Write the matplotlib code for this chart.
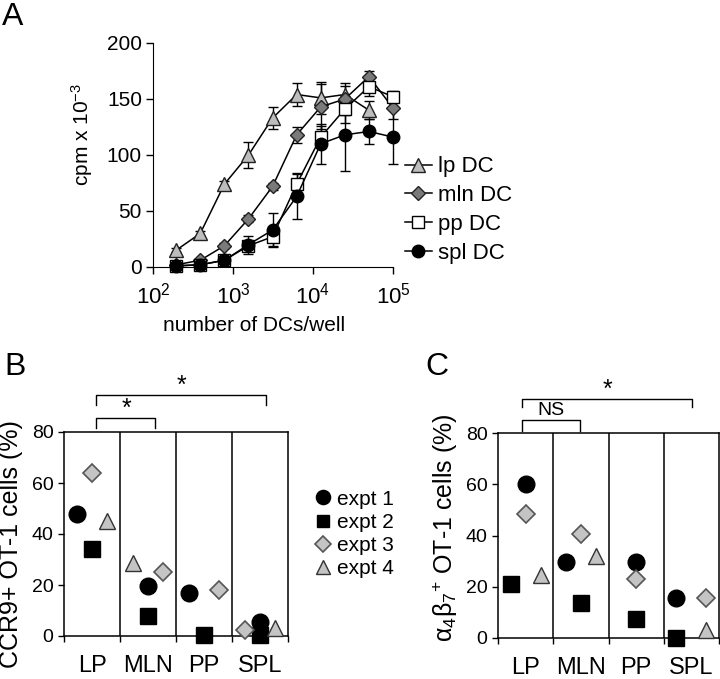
import numpy as np
import matplotlib
matplotlib.use('Agg')
import matplotlib.pyplot as plt
from matplotlib.lines import Line2D

plt.rcParams['font.family'] = ['Liberation Sans', 'DejaVu Sans']
plt.rcParams['mathtext.fontset'] = 'custom'
plt.rcParams['mathtext.rm'] = 'Liberation Sans'
plt.rcParams['mathtext.it'] = 'Liberation Sans:italic'

# ---- panel A data ----
dcs = [195, 390, 781, 1562, 3125, 6250, 12500, 25000, 50000, 100000]
lp_y = [15, 30, 74, 100, 133, 154, 151, 154, 140]
lp_err = [2, 2, 3, 12, 10, 10, 14, 8, 8]
mln_y = [2, 6, 19, 43, 72, 118, 143, 150, 170, 142]
mln_err = [1, 1, 2, 3, 3, 7, 20, 14, 5, 10]
pp_y = [1, 2, 6, 19, 27, 74, 116, 141, 161, 152]
pp_err = [1, 1, 2, 4, 8, 10, 10, 12, 8, 5]
spl_y = [1, 2, 6, 20, 33, 63, 110, 118, 121, 116]
spl_err = [1, 1, 2, 8, 15, 20, 18, 32, 11, 24]

# ---- panels B and C data ----
groups = ['LP', 'MLN', 'PP', 'SPL']
expts = ['expt 1', 'expt 2', 'expt 3', 'expt 4']
ccr9 = {
    'expt 1': [48, 19.5, 17, 5.5],
    'expt 2': [34, 8, 0.5, 0.5],
    'expt 3': [64, 25, 18, 2.2],
    'expt 4': [45, 28.5, np.nan, 3],
}
a4b7 = {
    'expt 1': [60, 29.5, 29.5, 15.8],
    'expt 2': [21, 13.5, 7.5, 0],
    'expt 3': [48.5, 40.5, 23, 15.5],
    'expt 4': [24.5, 32, np.nan, 3],
}

# horizontal placement inside each group (-1 left, 0 centre, 1 right)
ccr9_pos = {
    'expt 1': [-1, 0, -1, 0],
    'expt 2': [0, 0, 0, 0],
    'expt 3': [0, 1, 1, -1],
    'expt 4': [1, -1, 0, 1],
}
a4b7_pos = {
    'expt 1': [0, -1, 0, -1],
    'expt 2': [-1, 0, 0, -1],
    'expt 3': [0, 0, 0, 1],
    'expt 4': [1, 1, 0, 1],
}

expt_style = {
    'expt 1': dict(marker='o', markersize=12, markerfacecolor='black', markeredgecolor='black'),
    'expt 2': dict(marker='s', markersize=11, markerfacecolor='black', markeredgecolor='black'),
    'expt 3': dict(marker='D', markersize=9, markerfacecolor='#c4c4c4', markeredgecolor='#555555', markeredgewidth=1.2),
    'expt 4': dict(marker='^', markersize=12, markerfacecolor='#c4c4c4', markeredgecolor='#333333', markeredgewidth=1.0),
}

W, H = 720, 679
fig = plt.figure(figsize=(7.2, 6.79), dpi=100)


def px_axes(left, top, right, bottom):
    return fig.add_axes([left / W, 1 - bottom / H, (right - left) / W, (bottom - top) / H])


# ---------------- panel A ----------------
axA = px_axes(153, 43, 393, 267)
series = [
    ('lp DC', lp_y, lp_err, dict(marker='^', markersize=10, markerfacecolor='#bdbdbd', markeredgecolor='#222222')),
    ('mln DC', mln_y, mln_err, dict(marker='D', markersize=7.5, markerfacecolor='#7a7a7a', markeredgecolor='#222222')),
    ('pp DC', pp_y, pp_err, dict(marker='s', markersize=8, markerfacecolor='white', markeredgecolor='black')),
    ('spl DC', spl_y, spl_err, dict(marker='o', markersize=9, markerfacecolor='black', markeredgecolor='black')),
]
handles = []
for name, y, err, st in series:
    x = dcs[:len(y)]
    axA.errorbar(x, y, yerr=err, color='black', lw=1.1, elinewidth=1, capsize=3.5,
                 clip_on=False, zorder=3, **st)
    handles.append(Line2D([], [], color='black', lw=1.1, **st))

axA.set_xscale('log')
axA.set_xlim(100, 100000)
axA.set_ylim(0, 200)
axA.set_xticks([1e2, 1e3, 1e4, 1e5])
axA.set_xticklabels([r'10$^{2}$', r'10$^{3}$', r'10$^{4}$', r'10$^{5}$'])
axA.xaxis.set_minor_locator(matplotlib.ticker.NullLocator())
axA.set_yticks([0, 50, 100, 150, 200])
axA.spines['top'].set_visible(False)
axA.spines['right'].set_visible(False)
axA.tick_params(direction='out', length=5, width=1, labelsize=15, pad=3)
axA.tick_params(axis='x', pad=6, labelsize=16)
axA.set_ylabel(r'cpm x 10$^{-3}$', fontsize=15)
axA.yaxis.set_label_coords(-0.24, 0.59)
axA.set_xlabel('number of DCs/well', fontsize=15)
axA.xaxis.set_label_coords(0.42, -0.22)

fig.legend(handles=[h for h in handles], labels=[s[0] for s in series],
           loc='center left', bbox_to_anchor=(405 / W, 1 - 210 / H), frameon=False,
           fontsize=16, handlelength=1.2, handletextpad=0.3, labelspacing=0.35,
           borderpad=0, borderaxespad=0)


# ---------------- panels B and C ----------------
def scatter_panel(ax, values, pos):
    step = 0.27
    for e in expts:
        for i, v in enumerate(values[e]):
            if np.isnan(v):
                continue
            ax.plot(i + 0.5 + pos[e][i] * step, v, linestyle='none', clip_on=False,
                    zorder=3, **expt_style[e])
    ax.set_xlim(0, 4)
    ax.set_ylim(0, 80)
    ax.set_yticks([0, 20, 40, 60, 80])
    for d in [1, 2, 3]:
        ax.axvline(d, color='black', lw=1.1)
    ax.set_xticks([0, 1, 2, 3, 4])
    ax.set_xticklabels([])
    ax.set_xticks([0.5, 1.5, 2.5, 3.5], minor=True)
    ax.set_xticklabels(groups, minor=True, fontsize=17)
    ax.tick_params(axis='x', which='minor', length=0, pad=14)
    ax.tick_params(axis='both', which='major', direction='out', length=4, width=1, labelsize=14)
    for s in ax.spines.values():
        s.set_linewidth(1.1)


def bracket(ax, x0, x1, y, ytick, text, tx, ty, size):
    ax.plot([x0, x0, x1, x1], [ytick, y, y, ytick], color='black', lw=1, clip_on=False)
    ax.text(tx, ty, text, ha='center', va='center', fontsize=size)


axB = px_axes(64, 432, 288, 636)
scatter_panel(axB, ccr9, ccr9_pos)
axB.set_ylabel('CCR9+ OT-1 cells (%)', fontsize=18)
axB.yaxis.set_label_coords(-0.185, 0.45)
bracket(axB, 0.57, 3.6, 94.5, 90.6, '*', 2.1, 98.0, 18)
bracket(axB, 0.57, 1.62, 85.4, 81.6, '*', 1.12, 89.0, 18)

axC = px_axes(498, 433, 719, 638)
scatter_panel(axC, a4b7, a4b7_pos)
axC.set_ylabel('α$_{4}$β$_{7}$$^{+}$ OT-1 cells (%)', fontsize=18)
axC.yaxis.set_label_coords(-0.17, 0.54)
bracket(axC, 0.43, 3.51, 93.4, 90.3, '*', 1.98, 97.0, 18)
bracket(axC, 0.43, 1.49, 84.9, 80.6, 'NS', 0.96, 88.6, 14)

fig.legend(handles=[Line2D([], [], linestyle='none', **dict(expt_style[e], markersize=expt_style[e]['markersize'] * 0.85))
                    for e in expts],
           labels=expts, loc='center left', bbox_to_anchor=(316 / W, 1 - 534 / H), frameon=False,
           fontsize=15, handlelength=0.7, handletextpad=0.3, labelspacing=0.2,
           borderpad=0, borderaxespad=0)

# panel letters
for letter, (x, y) in {'A': (13, 17), 'B': (15, 367), 'C': (437, 367)}.items():
    fig.text(x / W, 1 - y / H, letter, ha='center', va='center', fontsize=23)

fig.savefig('out.png', dpi=100)
